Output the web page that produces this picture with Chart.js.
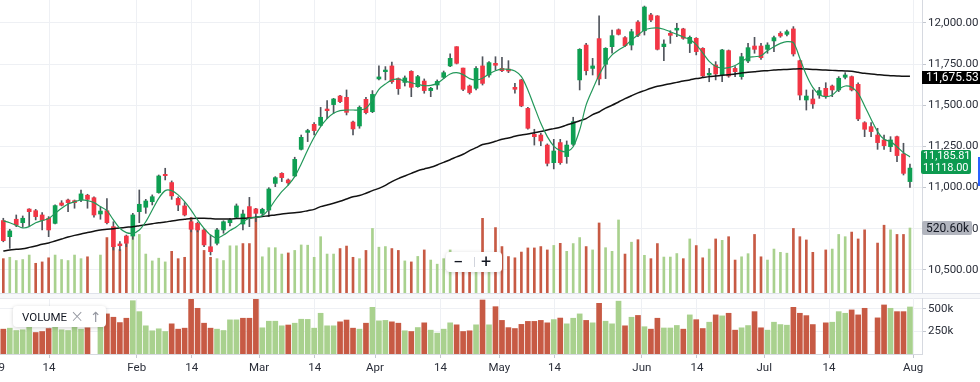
<!DOCTYPE html>
<html><head><meta charset="utf-8">
<script src="https://cdn.jsdelivr.net/npm/chart.js@4.4.1/dist/chart.umd.min.js"></script>
<style>
html,body{margin:0;padding:0;background:#fff;width:980px;height:382px;overflow:hidden;font-family:Roboto,"Noto Sans",sans-serif;}
#wrap{position:relative;width:980px;height:382px;overflow:hidden;}
#c1{position:absolute;left:0;top:0;}
#c2{position:absolute;left:0;top:298px;}
.sep{position:absolute;left:0;top:293px;width:980px;height:6px;background:#f7f8fa;border-top:1px solid #e0e3eb;border-bottom:1px solid #e6e8ee;box-sizing:border-box;}
.box{position:absolute;background:#fff;border-radius:4px;box-shadow:0 1px 4px rgba(0,0,0,0.18);}
.lbl{position:absolute;font-size:12px;line-height:12px;white-space:nowrap;}
</style></head>
<body><div id="wrap">
<canvas id="c1" width="980" height="294"></canvas>
<div class="sep"></div>
<canvas id="c2" width="980" height="84"></canvas>

<div class="box" style="left:13px;top:306px;width:93px;height:21px;">
  <span style="position:absolute;left:9px;top:4px;font-size:11.5px;color:#131722;">VOLUME</span>
  <span style="position:absolute;left:57px;top:0px;font-size:17px;line-height:20px;color:#9598a1;font-family:'DejaVu Sans';font-weight:200;">×</span>
  <span style="position:absolute;left:77px;top:1px;font-size:14px;line-height:20px;color:#9598a1;font-family:'DejaVu Sans';">↑</span>
</div>
<div class="box" style="left:446px;top:252px;width:56px;height:20px;">
  <span style="position:absolute;left:7px;top:-1px;font-size:18px;color:#131722;">−</span>
  <span style="position:absolute;left:28px;top:5px;width:1px;height:10px;background:#d1d4dc;"></span>
  <span style="position:absolute;left:35px;top:-1px;font-size:18px;color:#131722;">+</span>
</div>
<div class="lbl" style="left:-21px;top:361px;font-size:11.5px;color:#2a2e39;">2019</div>

<div class="lbl" style="left:922px;top:71px;width:58px;height:13px;background:#000;color:#fff;padding-left:4px;box-sizing:border-box;line-height:13px;">11,675.53</div>
<div class="lbl" style="left:921px;top:150px;width:50px;height:24px;background:#0d9a50;color:#fff;padding-left:2px;box-sizing:border-box;border-radius:2px;font-size:11px;letter-spacing:-0.1px;">
  <div style="line-height:12px;">11,185.81</div><div style="line-height:11px;">11118.00</div>
</div>
<div class="lbl" style="left:922px;top:221px;width:50px;height:14px;background:#b2b5be;color:#131722;padding-left:4px;box-sizing:border-box;line-height:14px;border-radius:2px;">520.60k</div>
<div style="position:absolute;left:978px;top:157px;width:2px;height:29px;background:#2962ff;"></div>
</div>
<script>
// ---- data ----
const opens = [10799,10701,10807,10786,10869,10859,10833,10813,10782,10906,10924,10920,10924,10953,10938,10839,10859,10762,10657,10705,10705,10853,10880,10914,10969,11080,11030,10934,10888,10792,10782,10742,10640,10661,10742,10786,10819,10778,10884,10870,10843,10863,11025,11086,11046,11070,11232,11335,11384,11378,11477,11504,11556,11548,11398,11374,11536,11461,11660,11704,11739,11662,11639,11706,11613,11647,11589,11623,11670,11739,11856,11726,11617,11603,11739,11684,11755,11724,11720,11609,11654,11481,11323,11319,11258,11151,11273,11188,11263,11654,11866,11724,11905,11749,11856,11959,11911,11866,12006,11953,12049,12043,11856,11937,11957,11964,11876,11907,11846,11684,11745,11684,11832,11724,11674,11769,11860,11860,11840,11891,11937,11931,11964,11771,11532,11538,11562,11603,11617,11593,11670,11674,11627,11394,11370,11319,11289,11248,11309,11204,11036];
const highs = [10813,10746,10833,10827,10871,10867,10847,10823,10894,10920,10930,10924,10985,10959,10944,10880,10932,10792,10671,10711,10843,10985,10928,10955,11076,11117,11040,10944,10908,10800,10790,10750,10711,10752,10798,10813,10900,10863,10940,10874,10874,10999,11066,11090,11052,11184,11319,11354,11394,11487,11528,11542,11560,11593,11404,11496,11548,11589,11739,11735,11763,11666,11678,11710,11682,11660,11609,11654,11708,11812,11856,11726,11623,11735,11795,11765,11795,11791,11771,11633,11658,11487,11354,11329,11265,11293,11293,11283,11427,11844,11876,11785,12043,11850,11957,11964,11917,11962,12014,12103,12059,12045,11897,11953,11998,11968,11921,11911,11850,11724,11765,11840,11836,11735,11816,11876,11913,11876,11880,11921,11947,11957,11978,11775,11593,11593,11609,11637,11623,11674,11698,11678,11637,11400,11394,11360,11319,11309,11313,11269,11143];
const lows = [10670,10630,10762,10758,10762,10803,10742,10701,10778,10888,10853,10874,10914,10874,10819,10807,10778,10620,10616,10640,10685,10786,10843,10894,10965,11046,10928,10859,10827,10730,10730,10640,10590,10651,10722,10766,10813,10742,10762,10792,10823,10823,11005,11036,11015,11066,11228,11279,11319,11374,11419,11451,11516,11441,11319,11360,11447,11455,11654,11654,11633,11566,11617,11552,11609,11573,11552,11597,11662,11735,11751,11589,11568,11593,11623,11670,11714,11704,11698,11573,11491,11354,11258,11254,11131,11113,11141,11147,11254,11593,11684,11684,11623,11662,11816,11927,11856,11836,11917,11927,12008,11836,11771,11876,11917,11901,11820,11806,11670,11643,11654,11643,11670,11674,11658,11759,11816,11779,11816,11826,11913,11921,11799,11532,11471,11481,11542,11542,11552,11583,11660,11587,11406,11309,11309,11232,11232,11218,11157,11076,11001];
const closes = [10677,10736,10772,10813,10853,10823,10799,10742,10890,10892,10908,10908,10961,10928,10833,10857,10786,10640,10646,10661,10833,10898,10918,10944,11070,11072,10949,10894,10833,10746,10742,10651,10610,10742,10792,10803,10888,10839,10813,10843,10867,10991,11060,11060,11028,11171,11305,11346,11346,11427,11467,11538,11522,11457,11356,11487,11455,11566,11672,11714,11643,11601,11666,11609,11674,11589,11603,11645,11698,11785,11755,11597,11577,11724,11633,11759,11743,11710,11708,11597,11496,11360,11309,11283,11147,11222,11151,11258,11400,11840,11710,11739,11660,11846,11923,11931,11862,11947,11925,12097,12018,11840,11872,11925,11968,11907,11913,11826,11678,11694,11690,11836,11678,11704,11795,11850,11840,11789,11866,11911,11921,11947,11812,11562,11556,11508,11589,11552,11593,11664,11684,11593,11417,11354,11340,11273,11254,11289,11194,11086,11118];
// volume in thousands (null = no bar)
const volumeK = [275,286,260,268,304,238,249,282,304,268,260,304,275,290,null,304,444,407,348,396,590,469,312,257,279,249,334,275,286,605,506,341,286,275,260,378,378,396,396,605,290,363,363,312,321,341,385,383,286,451,312,312,356,376,286,275,341,517,367,372,356,341,257,249,293,345,264,231,275,345,323,249,257,323,598,323,524,372,292,282,328,361,361,372,345,381,398,334,396,444,372,345,561,363,334,585,312,407,427,302,275,396,288,288,316,275,433,380,282,352,433,422,451,264,290,315,469,290,264,352,326,319,517,451,425,326,null,345,352,469,451,488,433,506,null,400,543,506,469,469,520.6];
// 1 = volume bar up (green), 0 = down (red)
const volumeUp = [0,1,1,1,1,0,0,0,1,1,1,1,1,0,1,1,0,0,0,0,1,1,1,1,1,1,0,0,0,0,0,0,0,1,1,1,1,0,0,0,1,1,1,1,0,1,1,1,1,1,1,1,0,0,0,1,0,1,1,1,0,0,1,0,1,0,1,1,1,1,0,0,0,1,0,1,0,0,0,0,0,0,0,0,0,1,0,1,1,1,0,1,0,1,1,1,0,1,0,1,0,0,1,1,1,0,1,0,0,1,0,1,0,0,1,1,0,0,1,1,1,1,0,0,0,0,0,0,1,1,1,0,0,0,0,0,0,1,0,0,1];
const maShort = [10797,10786,10770,10754,10762,10786,10799,10811,10843,10874,10900,10914,10924,10920,10908,10884,10859,10803,10752,10726,10722,10742,10792,10863,10934,10981,10981,10955,10914,10863,10803,10752,10711,10693,10711,10738,10762,10792,10813,10819,10829,10867,10924,10975,11015,11066,11143,11228,11305,11370,11419,11451,11467,11471,11471,11471,11481,11532,11597,11629,11654,11658,11647,11637,11627,11619,11621,11633,11662,11690,11698,11686,11662,11654,11664,11690,11710,11720,11718,11708,11674,11593,11491,11390,11309,11252,11224,11218,11248,11350,11502,11597,11684,11755,11806,11836,11860,11897,11927,11957,11968,11970,11962,11947,11931,11915,11899,11869,11818,11767,11737,11725,11729,11742,11765,11789,11795,11801,11832,11856,11876,11887,11880,11785,11684,11609,11566,11552,11562,11597,11617,11609,11573,11496,11415,11340,11293,11279,11248,11212,11185.81];
const maLong = [10614,10620,10624,10628,10636,10645,10655,10663,10675,10687,10699,10709,10718,10726,10734,10742,10746,10750,10754,10758,10762,10768,10774,10780,10786,10790,10797,10803,10807,10811,10813,10813,10811,10809,10809,10809,10811,10813,10815,10819,10823,10829,10833,10839,10843,10847,10851,10859,10867,10884,10894,10904,10916,10930,10944,10951,10965,10981,10995,11013,11036,11054,11070,11086,11102,11113,11123,11137,11153,11169,11186,11202,11224,11242,11261,11269,11281,11293,11301,11311,11319,11325,11333,11340,11350,11358,11366,11380,11392,11406,11419,11443,11459,11483,11500,11520,11540,11558,11575,11589,11603,11615,11623,11631,11639,11647,11654,11662,11668,11674,11678,11682,11686,11690,11696,11700,11704,11708,11710,11714,11716,11718,11720,11722,11720,11718,11716,11714,11712,11710,11708,11706,11700,11694,11690,11686,11682,11680,11678,11676,11675.53];
const tickPos = [7.06,20.6,29.1,39.5,48.1,57.4,67.5,76.6,85.1,98.6,107.1,117.5,127.5,140.5];
const tickLabels = ['14','Feb','14','Mar','14','Apr','14','May','14','Jun','14','Jul','14','Aug'];
const priceTicks = [10500,10750,11000,11250,11500,11750,12000];
const volumeTicks = [250000,500000];

// ---- styles ----
const UP='#0e9f52', DOWN='#f23645', WICK='#50545c';
const VUP='#a9d18e', VDN='#c75a44';
const GRID='#eef0f4', AXIS='#d6d9e0', TXT='#2a2e39';
Chart.defaults.font.family='Roboto, "Noto Sans", sans-serif';
Chart.defaults.font.size=11.5;
Chart.defaults.color=TXT;

const X_MIN=-0.51, X_MAX=141.86;
function xScale(showLabels){
  return {
    type:'linear', min:X_MIN, max:X_MAX, offset:false,
    afterBuildTicks:s=>{s.ticks=tickPos.map(v=>({value:v}));},
    afterFit: showLabels ? (s=>{s.height=28; s.paddingLeft=0; s.paddingRight=0;}) : (s=>{s.height=1; s.paddingLeft=0; s.paddingRight=0;}),
    ticks:{display:showLabels, autoSkip:false, maxRotation:0, padding:3, color:TXT,
      callback:(v,i)=>tickLabels[i]},
    grid:{color:GRID, drawTicks:showLabels, tickLength:4, tickColor:'#c3c7cf', offset:false},
    border:{display:showLabels, color:AXIS}
  };
}
const idx = closes.map((_,i)=>i);
const base = {
  responsive:false, animation:false, events:[],
  layout:{padding:0, autoPadding:false},
  plugins:{legend:{display:false}, tooltip:{enabled:false}}
};

new Chart(document.getElementById('c1'),{
  data:{datasets:[
    {type:'bar', yAxisID:'yv', order:10, grouped:false, barThickness:2,
      data:idx.map(i=>({x:i,y:volumeK[i]==null?null:volumeK[i]*1000})),
      backgroundColor:c=>volumeUp[c.dataIndex]?VUP:VDN},
    {type:'bar', yAxisID:'y', order:6, grouped:false, barThickness:1,
      data:idx.map(i=>({x:i,y:[lows[i],highs[i]]})), backgroundColor:WICK},
    {type:'bar', yAxisID:'y', order:5, grouped:false, barThickness:4, minBarLength:1,
      data:idx.map(i=>({x:i,y:[opens[i],closes[i]]})),
      backgroundColor:idx.map(i=>closes[i]>=opens[i]?UP:DOWN)},
    {type:'line', yAxisID:'y', order:2, data:idx.map(i=>({x:i,y:maLong[i]})),
      borderColor:'#121212', borderWidth:1.5, pointRadius:0, tension:0.3},
    {type:'line', yAxisID:'y', order:1, data:idx.map(i=>({x:i,y:maShort[i]})),
      borderColor:'#23985a', borderWidth:1.2, pointRadius:0, tension:0.3}
  ]},
  options:Object.assign({},base,{
    scales:{
      x:xScale(false),
      y:{position:'right', min:10358.7, max:12139.8,
        afterBuildTicks:s=>{s.ticks=priceTicks.map(v=>({value:v}));},
        afterFit:s=>{s.width=58; s.paddingTop=0; s.paddingBottom=0;},
        ticks:{padding:2, color:TXT, callback:v=>v.toLocaleString('en-US',{minimumFractionDigits:2,maximumFractionDigits:2})},
        grid:{color:GRID, tickLength:4, tickColor:'#c3c7cf'},
        border:{color:AXIS}},
      yv:{display:false, min:0, max:2347000}
    }
  })
});

new Chart(document.getElementById('c2'),{
  data:{datasets:[
    {type:'bar', yAxisID:'y', grouped:false, barThickness:5,
      data:idx.map(i=>({x:i,y:volumeK[i]==null?null:volumeK[i]*1000})),
      backgroundColor:c=>volumeUp[c.dataIndex]?VUP:VDN}
  ]},
  options:Object.assign({},base,{
    scales:{
      x:xScale(true),
      y:{position:'right', min:0, max:620000,
        afterBuildTicks:s=>{s.ticks=volumeTicks.map(v=>({value:v}));},
        afterFit:s=>{s.width=58; s.paddingTop=0; s.paddingBottom=0;},
        ticks:{padding:2, color:TXT, callback:v=>(v/1000)+'k'},
        grid:{color:GRID, tickLength:4, tickColor:'#c3c7cf'},
        border:{color:AXIS}}
    }
  })
});
</script>
</body></html>
